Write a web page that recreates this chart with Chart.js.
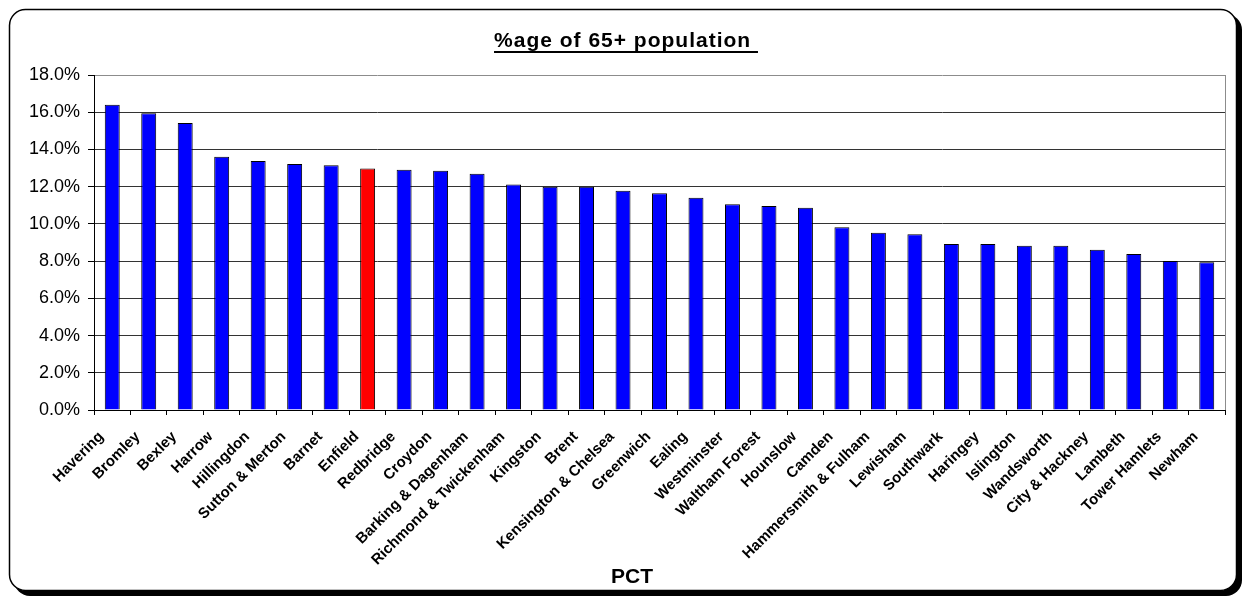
<!DOCTYPE html>
<html>
<head>
<meta charset="utf-8">
<script src="https://cdn.jsdelivr.net/npm/chart.js@4"></script>
<style>
  html, body { margin: 0; padding: 0; background: #fff; }
  canvas { display: block; }
</style>
</head>
<body>
<canvas id="chart" width="1247" height="597"></canvas>
<script>
// Primary Care Trusts, ordered by share of population aged 65+
const pcts = [
  'Havering', 'Bromley', 'Bexley', 'Harrow', 'Hillingdon', 'Sutton & Merton',
  'Barnet', 'Enfield', 'Redbridge', 'Croydon', 'Barking & Dagenham',
  'Richmond & Twickenham', 'Kingston', 'Brent', 'Kensington & Chelsea',
  'Greenwich', 'Ealing', 'Westminster', 'Waltham Forest', 'Hounslow', 'Camden',
  'Hammersmith & Fulham', 'Lewisham', 'Southwark', 'Haringey', 'Islington',
  'Wandsworth', 'City & Hackney', 'Lambeth', 'Tower Hamlets', 'Newham'
];

// Share of population aged 65+ (%)
const over65Share = [
  16.4, 15.94, 15.42, 13.61, 13.38, 13.22,
  13.15, 12.97, 12.91, 12.86, 12.7,
  12.11, 12.0, 12.0, 11.78,
  11.64, 11.41, 11.05, 10.96, 10.87, 9.82,
  9.53, 9.44, 8.92, 8.92, 8.83,
  8.83, 8.61, 8.38, 8.01, 7.94
];

const highlightedPct = 'Enfield';

// Value axis
const yMin = 0;
const yMax = 18;
const yStep = 2;

const FONT = "'Liberation Sans', Arial, Helvetica, sans-serif";

const barColours = pcts.map(p => p === highlightedPct ? '#ff0000' : '#0000ff');

// Rounded frame with a drop shadow, plot-area edge, title and axis title
const chartDecor = {
  id: 'chartDecor',
  beforeDraw(chart) {
    const ctx = chart.ctx;
    ctx.save();
    ctx.fillStyle = '#ffffff';
    ctx.fillRect(0, 0, chart.width, chart.height);
    // shadow
    ctx.fillStyle = '#000000';
    ctx.beginPath();
    ctx.roundRect(14, 14, 1228, 582, 16);
    ctx.fill();
    // panel
    ctx.fillStyle = '#ffffff';
    ctx.strokeStyle = '#000000';
    ctx.lineWidth = 1.5;
    ctx.beginPath();
    ctx.roundRect(9.5, 9.5, 1227, 581, 16);
    ctx.fill();
    ctx.stroke();
    ctx.restore();
  },
  afterDraw(chart) {
    const ctx = chart.ctx;
    const a = chart.chartArea;
    ctx.save();
    // plot area edge on the right
    ctx.strokeStyle = '#8c8c8c';
    ctx.lineWidth = 1;
    ctx.beginPath();
    ctx.moveTo(Math.round(a.right) + 0.5, a.top);
    ctx.lineTo(Math.round(a.right) + 0.5, a.bottom);
    ctx.stroke();

    // chart title, underlined
    const title = '%age of 65+ population ';
    ctx.fillStyle = '#000';
    ctx.font = 'bold 21px ' + FONT;
    ctx.letterSpacing = '1px';
    ctx.textAlign = 'left';
    ctx.textBaseline = 'alphabetic';
    const w = ctx.measureText(title).width;
    const tx = 626 - w / 2;
    ctx.fillText(title, tx, 47);
    ctx.fillRect(tx, 51, w, 2);

    // category axis title
    ctx.letterSpacing = '0px';
    ctx.textAlign = 'center';
    ctx.fillText('PCT', 632, 583);
    ctx.restore();
  }
};

new Chart(document.getElementById('chart'), {
  type: 'bar',
  data: {
    labels: pcts,
    datasets: [{
      data: over65Share,
      backgroundColor: barColours,
      borderColor: '#000000',
      borderWidth: 1,
      barPercentage: 0.41,
      categoryPercentage: 1.0
    }]
  },
  options: {
    responsive: false,
    animation: false,
    layout: { padding: { left: 0, right: 22, top: 75, bottom: 0 } },
    plugins: {
      legend: { display: false },
      tooltip: { enabled: false },
      title: { display: false }
    },
    scales: {
      x: {
        grid: {
          offset: true,
          drawOnChartArea: false,
          color: '#000000',
          tickLength: 5
        },
        border: { color: '#000000', width: 1 },
        ticks: {
          autoSkip: false,
          minRotation: 45,
          maxRotation: 45,
          color: '#000000',
          padding: 13,
          labelOffset: -11,
          font: { family: FONT, size: 15, weight: 'bold' }
        },
        afterFit(scale) { scale.height = 187; }
      },
      y: {
        min: yMin,
        max: yMax,
        ticks: {
          stepSize: yStep,
          color: '#000000',
          padding: 8,
          font: { family: FONT, size: 18 },
          callback: v => v.toFixed(1) + '%'
        },
        grid: {
          color: ctx => (ctx.tick && ctx.tick.value === yMax) ? '#8c8c8c' : '#333333',
          tickColor: '#000000',
          tickLength: 6
        },
        border: { color: '#000000', width: 1 },
        afterFit(scale) { scale.width = 94; }
      }
    }
  },
  plugins: [chartDecor]
});
</script>
</body>
</html>
